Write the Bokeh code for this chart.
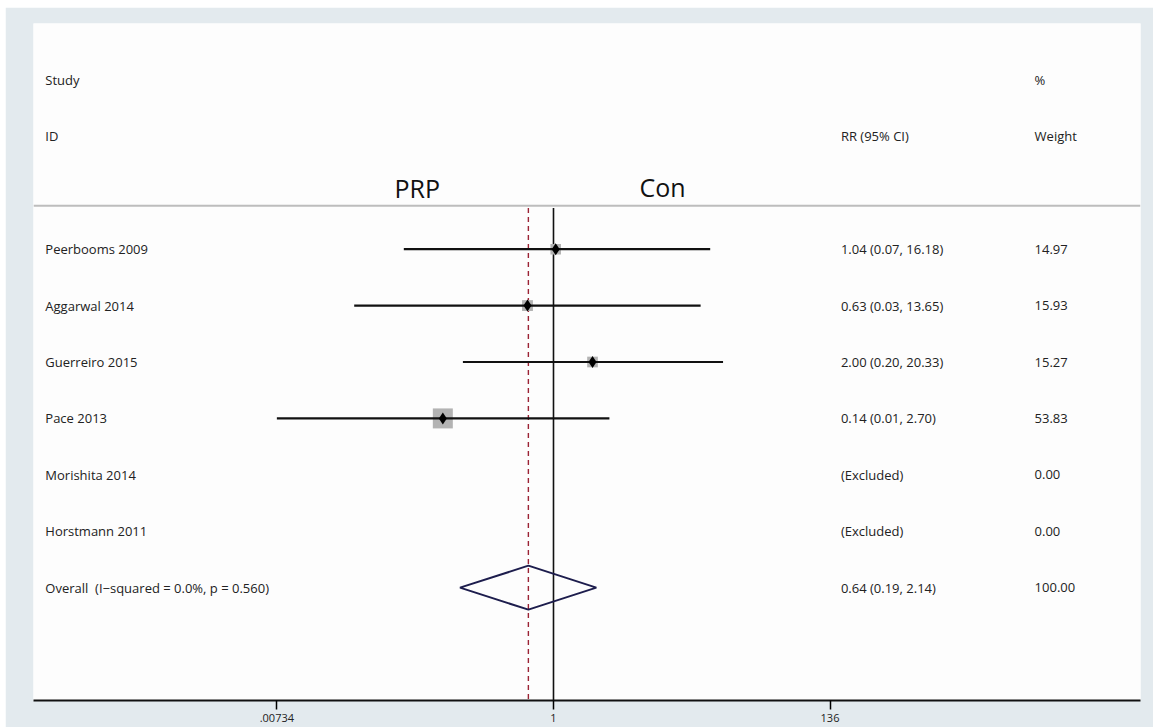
from bokeh.plotting import figure
from bokeh.models import Range1d, FixedTicker, Span, ColumnDataSource
from bokeh.core.properties import value
from bokeh.embed import file_html
from bokeh.resources import INLINE

# Study-level risk ratios with 95% confidence intervals and weights
studies = ["Peerbooms 2009", "Aggarwal 2014", "Guerreiro 2015", "Pace 2013",
           "Morishita 2014", "Horstmann 2011"]
rr = [1.04, 0.63, 2.00, 0.14, None, None]
ci_low = [0.07, 0.029, 0.20, 0.00734, None, None]
ci_high = [16.18, 13.65, 20.33, 2.70, None, None]
weights = [14.97, 15.93, 15.27, 53.83, 0.00, 0.00]

overall_label = "Overall\u00a0\u00a0(I\u2212squared = 0.0%, p = 0.560)"
overall_rr = 0.64
overall_low = 0.19
overall_high = 2.14

x_ticks = [0.00734, 1, 136]
tick_labels = [".00734", "1", "136"]

# layout constants (x in RR units on the log axis, y in row units)
LABEL_X = 1.2e-4
RR_X = 165.0
WT_X = 5150.0
FONT = "Open Sans"
FS = "13px"

rows = list(range(1, len(studies) + 1))
overall_row = len(studies) + 1

p = figure(width=1148, height=720, x_axis_type="log",
           x_range=Range1d(10 ** -4.012, 10 ** 4.529),
           y_range=Range1d(9.0, -3.0),
           output_backend="svg", toolbar_location=None,
           y_axis_location=None, min_border_left=28, min_border_right=13,
           min_border_top=16, min_border_bottom=27)
p.margin = (7, 0, 0, 5)
p.border_fill_color = "#e3eaee"
p.background_fill_color = "#fdfdfd"
p.outline_line_color = None
p.xgrid.visible = False
p.ygrid.visible = False

ax = p.xaxis[0]
ax.ticker = FixedTicker(ticks=x_ticks)
ax.major_label_overrides = {t: lab for t, lab in zip(x_ticks, tick_labels)}
ax.minor_tick_line_color = None
ax.axis_line_width = 2
ax.axis_line_color = "#111111"
ax.major_tick_line_width = 1.5
ax.major_tick_out = 9
ax.major_tick_in = 0
ax.major_label_standoff = 4
ax.major_label_text_font = FONT
ax.major_label_text_font_size = "11px"
ax.major_label_text_color = "#222222"

# header separator
p.add_layout(Span(location=0.232, dimension="width", line_color="#bdbdbd",
                  line_width=2))

# reference lines: null effect and pooled estimate
p.segment(x0=[1], y0=[0.27], x1=[1], y1=[9.0], line_color="#111111",
          line_width=1.6)
p.segment(x0=[overall_rr], y0=[0.27], x1=[overall_rr], y1=[9.0],
          line_color="#9b2335", line_width=1.4, line_dash="5 4")

# study estimates
idx = [i for i, v in enumerate(rr) if v is not None]
est = ColumnDataSource(dict(
    y=[rows[i] for i in idx],
    rr=[rr[i] for i in idx],
    lo=[ci_low[i] for i in idx],
    hi=[ci_high[i] for i in idx],
    sz=[20.0 * (weights[i] / max(weights)) ** 0.5 for i in idx],
))
p.scatter(x="rr", y="y", size="sz", marker="square", source=est,
          fill_color="#b3b3b3", line_color=None)
p.segment(x0="lo", y0="y", x1="hi", y1="y", source=est,
          line_color="#111111", line_width=2.2)
p.scatter(x="rr", y="y", size=12, marker="diamond", source=est,
          fill_color="#000000", line_color=None)

# pooled diamond
h = 0.39
p.patch(x=[overall_low, overall_rr, overall_high, overall_rr],
        y=[overall_row, overall_row - h, overall_row, overall_row + h],
        fill_color=None, line_color="#1d1d4d", line_width=2)

# text columns
def fmt_ci(e, lo, hi):
    if e is None:
        return "(Excluded)"
    return f"{e:.2f} ({lo:.2f}, {hi:.2f})"

left_txt = ["Study", "ID"] + studies + [overall_label]
left_y = [-2, -1] + rows + [overall_row]
rr_txt = ["RR (95% CI)"] + [fmt_ci(e, l, u) for e, l, u in zip(rr, ci_low, ci_high)] \
    + [fmt_ci(overall_rr, overall_low, overall_high)]
rr_y = [-1] + rows + [overall_row]
wt_txt = ["%", "Weight"] + [f"{w:.2f}" for w in weights] + ["100.00"]
wt_y = [-2, -1] + rows + [overall_row]

common = dict(text_font=value(FONT), text_font_size=FS, text_color="#222222",
              text_baseline="middle", text_align="left")
p.text(x=[LABEL_X] * len(left_txt), y=left_y, text=left_txt, **common)
p.text(x=[RR_X] * len(rr_txt), y=rr_y, text=rr_txt, **common)
p.text(x=[WT_X] * len(wt_txt), y=wt_y, text=wt_txt, **common)

# direction labels
p.text(x=[0.089, 6.93], y=[-0.08, -0.11], text=["PRP", "Con"],
       text_font=value(FONT), text_font_size="25px", text_color="#111111",
       text_align="center", text_baseline="alphabetic")

open("out.html", "w").write(file_html(p, INLINE))
